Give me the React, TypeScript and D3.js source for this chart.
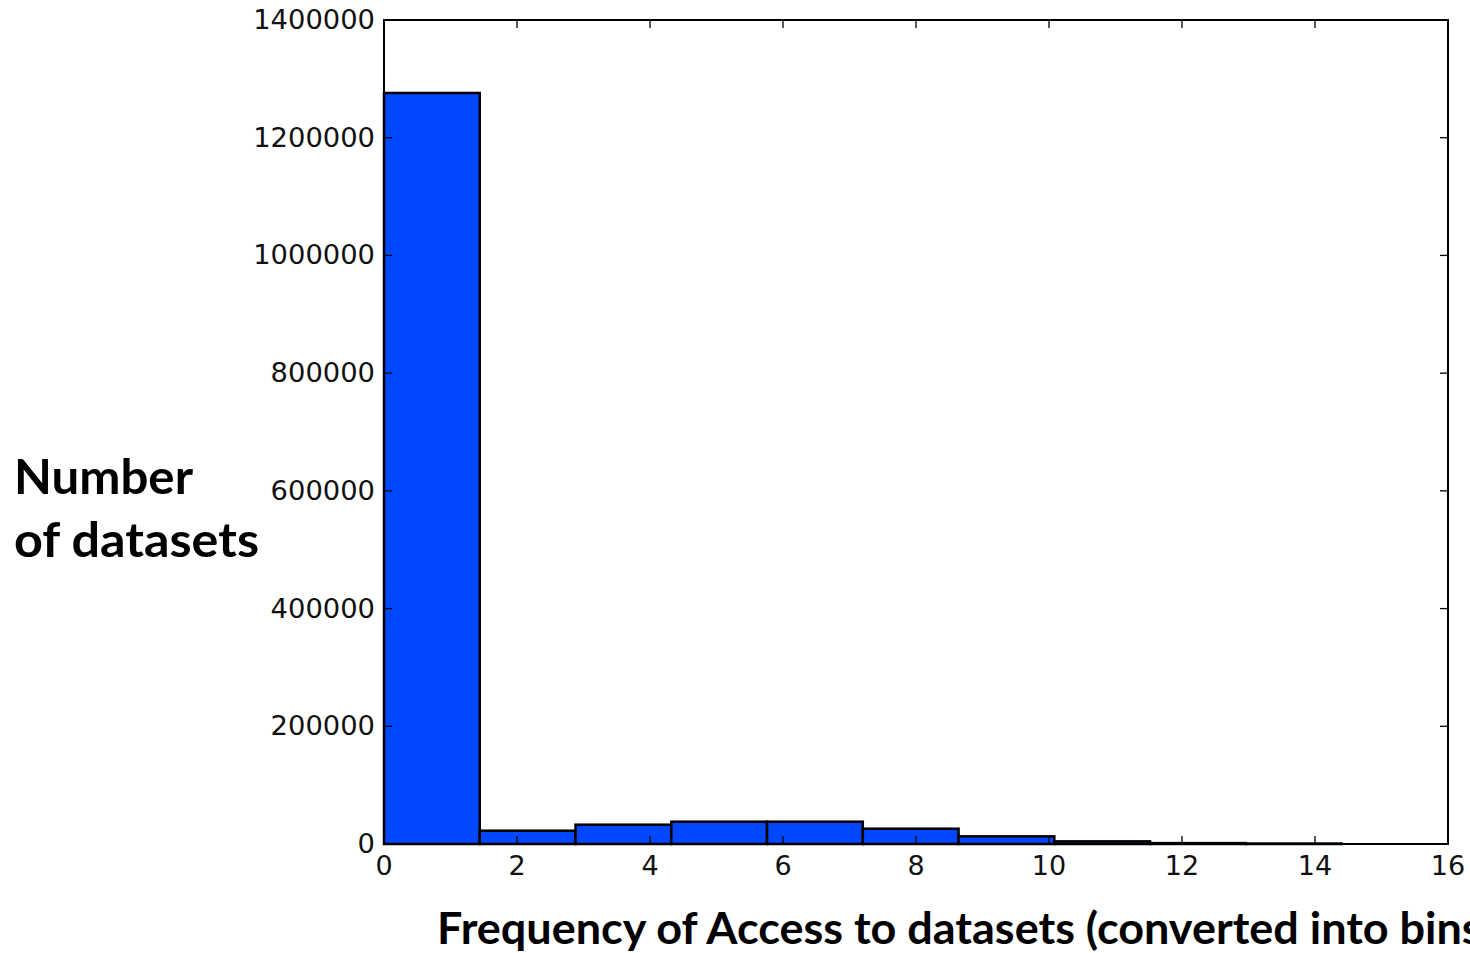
import React from "react";
import * as d3 from "d3";

const binEdges = [0, 1.44, 2.88, 4.32, 5.76, 7.2, 8.64, 10.08, 11.52, 12.96, 14.4];
const binCounts = [1276000, 22600, 32800, 37900, 37900, 26000, 13000, 4500, 1500, 800];
const xTicks = [0, 2, 4, 6, 8, 10, 12, 14, 16];
const yTicks = [0, 200000, 400000, 600000, 800000, 1000000, 1200000, 1400000];
const yTitleLines = ["Number", "of datasets"];
const xTitle = "Frequency of Access to datasets (converted into bins)";

export default function App() {
  const W = 1470, H = 953;
  const left = 384, right = 1448, top = 20, bottom = 844;
  const x = d3.scaleLinear().domain([0, 16]).range([left, right]);
  const y = d3.scaleLinear().domain([0, 1400000]).range([bottom, top]);
  const tk = 8;
  const bars = binCounts.map((c, i) => ({ x0: binEdges[i], x1: binEdges[i + 1], c }));
  return (
    <svg width={W} height={H} style={{ position: "absolute", left: 0, top: 0, background: "#fff" }}>
      <rect x={0} y={0} width={W} height={H} fill="#fff" />
      {bars.map((b, i) => (
        <rect key={i} x={x(b.x0)} y={y(b.c)} width={x(b.x1) - x(b.x0)} height={bottom - y(b.c)}
          fill="#0047ff" stroke="#000" strokeWidth={2.5} />
      ))}
      {xTicks.map((t) => (
        <g key={"x" + t}>
          <line x1={x(t)} x2={x(t)} y1={bottom} y2={bottom - tk} stroke="#000" strokeWidth={1.3} />
          <line x1={x(t)} x2={x(t)} y1={top} y2={top + tk} stroke="#000" strokeWidth={1.3} />
          <text x={x(t)} y={bottom + 31} textAnchor="middle" fontFamily="DejaVu Sans" fontSize={27} fill="#111">{t}</text>
        </g>
      ))}
      {yTicks.map((t) => (
        <g key={"y" + t}>
          <line x1={left} x2={left + tk} y1={y(t)} y2={y(t)} stroke="#000" strokeWidth={1.3} />
          <line x1={right} x2={right - tk} y1={y(t)} y2={y(t)} stroke="#000" strokeWidth={1.3} />
          <text x={left - 9} y={y(t) + 9} textAnchor="end" fontFamily="DejaVu Sans" fontSize={27}
            textLength={String(t).length * 17.4} lengthAdjust="spacingAndGlyphs" fill="#111">{t}</text>
        </g>
      ))}
      <rect x={left} y={top} width={right - left} height={bottom - top} fill="none" stroke="#000" strokeWidth={2} />
      {yTitleLines.map((l, i) => (
        <text key={l} x={14} y={494 + i * 63} fontFamily="Lato" fontWeight="bold" fontSize={48}
          textLength={i === 0 ? 179 : 245} lengthAdjust="spacingAndGlyphs" fill="#000">{l}</text>
      ))}
      <text x={437} y={944} fontFamily="Lato" fontWeight="bold" fontSize={44}
        textLength={1056} lengthAdjust="spacingAndGlyphs" fill="#000">{xTitle}</text>
    </svg>
  );
}
